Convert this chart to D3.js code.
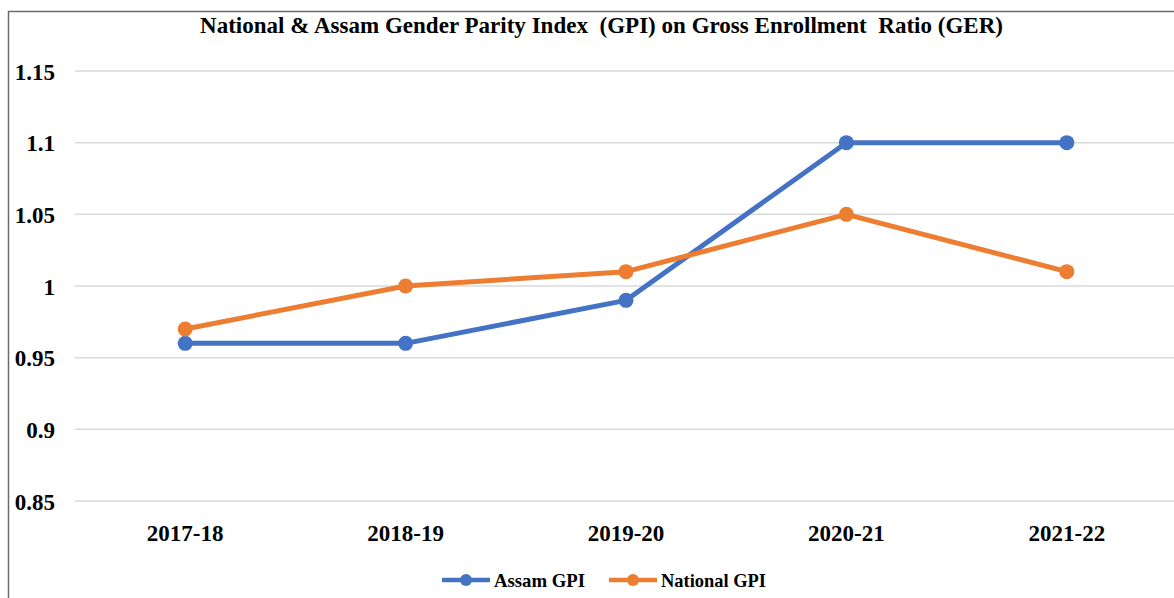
<!DOCTYPE html>
<html>
<head>
<meta charset="utf-8">
<script src="https://cdn.jsdelivr.net/npm/d3@7"></script>
<style>
  body { margin: 0; background: #fff; }
  text { font-family: "Liberation Serif", "Times New Roman", serif; font-weight: bold; fill: #000; }
</style>
</head>
<body>
<div id="chart"></div>
<script>
// chart data
const years = ["2017-18", "2018-19", "2019-20", "2020-21", "2021-22"];
const assamGPI = [0.96, 0.96, 0.99, 1.10, 1.10];
const nationalGPI = [0.97, 1.00, 1.01, 1.05, 1.01];
const yTicks = [0.85, 0.9, 0.95, 1, 1.05, 1.1, 1.15];

const seriesList = [
    { name: "Assam GPI", values: assamGPI, color: "#4472C4" },
    { name: "National GPI", values: nationalGPI, color: "#ED7D31" }
];

const W = 1174, H = 598;
const margin = { top: 71, right: -3, bottom: 97, left: 75 },
    width = W - margin.left - margin.right,
    height = H - margin.top - margin.bottom;

const svg = d3.select("#chart")
    .append("svg")
    .attr("width", W)
    .attr("height", H);

// outer chart border (runs off the right and bottom edges)
svg.append("rect")
    .attr("x", 8.5)
    .attr("y", 11.5)
    .attr("width", W + 20)
    .attr("height", H + 20)
    .attr("fill", "none")
    .attr("stroke", "#6b6b6b")
    .attr("stroke-width", 1.5);

const g = svg.append("g")
    .attr("transform", `translate(${margin.left}, ${margin.top})`);

// scales
const xScale = d3.scaleBand().domain(years).range([0, width]);
const yScale = d3.scaleLinear().domain([0.85, 1.15]).range([height, 0]);

// gridlines
g.append("g")
    .selectAll("line")
    .data(yTicks)
    .enter().append("line")
    .attr("x1", 0)
    .attr("x2", width)
    .attr("y1", d => yScale(d))
    .attr("y2", d => yScale(d))
    .attr("stroke", "#d9d9d9")
    .attr("stroke-width", 1.5);

// y axis labels
const yAxis = g.append("g")
    .call(d3.axisLeft(yScale).tickValues(yTicks).tickFormat(d => String(+d.toFixed(2))).tickSize(0).tickPadding(20));
yAxis.select(".domain").remove();
yAxis.selectAll("text")
    .style("font-family", "'Liberation Serif', serif")
    .style("font-weight", "bold")
    .style("font-size", "23px")
    .attr("dy", "0.35em");

// x axis labels
const xAxis = g.append("g")
    .attr("transform", `translate(0, ${height})`)
    .call(d3.axisBottom(xScale).tickSize(0).tickPadding(0));
xAxis.select(".domain").remove();
xAxis.selectAll("text")
    .style("font-family", "'Liberation Serif', serif")
    .style("font-weight", "bold")
    .style("font-size", "23px")
    .attr("dy", null)
    .attr("y", 40);

// lines and markers
const line = d3.line()
    .x((d, i) => xScale(years[i]) + xScale.bandwidth() / 2)
    .y(d => yScale(d));

seriesList.forEach(s => {
    g.append("path")
        .datum(s.values)
        .attr("fill", "none")
        .attr("stroke", s.color)
        .attr("stroke-width", 5)
        .attr("stroke-linejoin", "round")
        .attr("d", line);

    g.selectAll(null)
        .data(s.values)
        .enter().append("circle")
        .attr("cx", (d, i) => xScale(years[i]) + xScale.bandwidth() / 2)
        .attr("cy", d => yScale(d))
        .attr("r", 7.5)
        .attr("fill", s.color);
});

// title
svg.append("text")
    .attr("x", 200)
    .attr("y", 33)
    .attr("textLength", 803)
    .attr("lengthAdjust", "spacing")
    .style("font-size", "23px")
    .style("white-space", "pre")
    .text("National & Assam Gender Parity Index  (GPI) on Gross Enrollment  Ratio (GER)");

// legend
const legendX = [442, 609];
const legendW = [91, 105];
const legend = svg.append("g").attr("transform", "translate(0, 580)");
seriesList.forEach((s, i) => {
    const lg = legend.append("g").attr("transform", `translate(${legendX[i]}, 0)`);
    lg.append("line")
        .attr("x1", 0).attr("x2", 48)
        .attr("y1", 0).attr("y2", 0)
        .attr("stroke", s.color)
        .attr("stroke-width", 4.5);
    lg.append("circle")
        .attr("cx", 24).attr("cy", 0).attr("r", 6)
        .attr("fill", s.color);
    lg.append("text")
        .attr("x", 52)
        .attr("y", 7)
        .attr("textLength", legendW[i])
        .attr("lengthAdjust", "spacingAndGlyphs")
        .style("font-size", "19px")
        .text(s.name);
});
</script>
</body>
</html>
